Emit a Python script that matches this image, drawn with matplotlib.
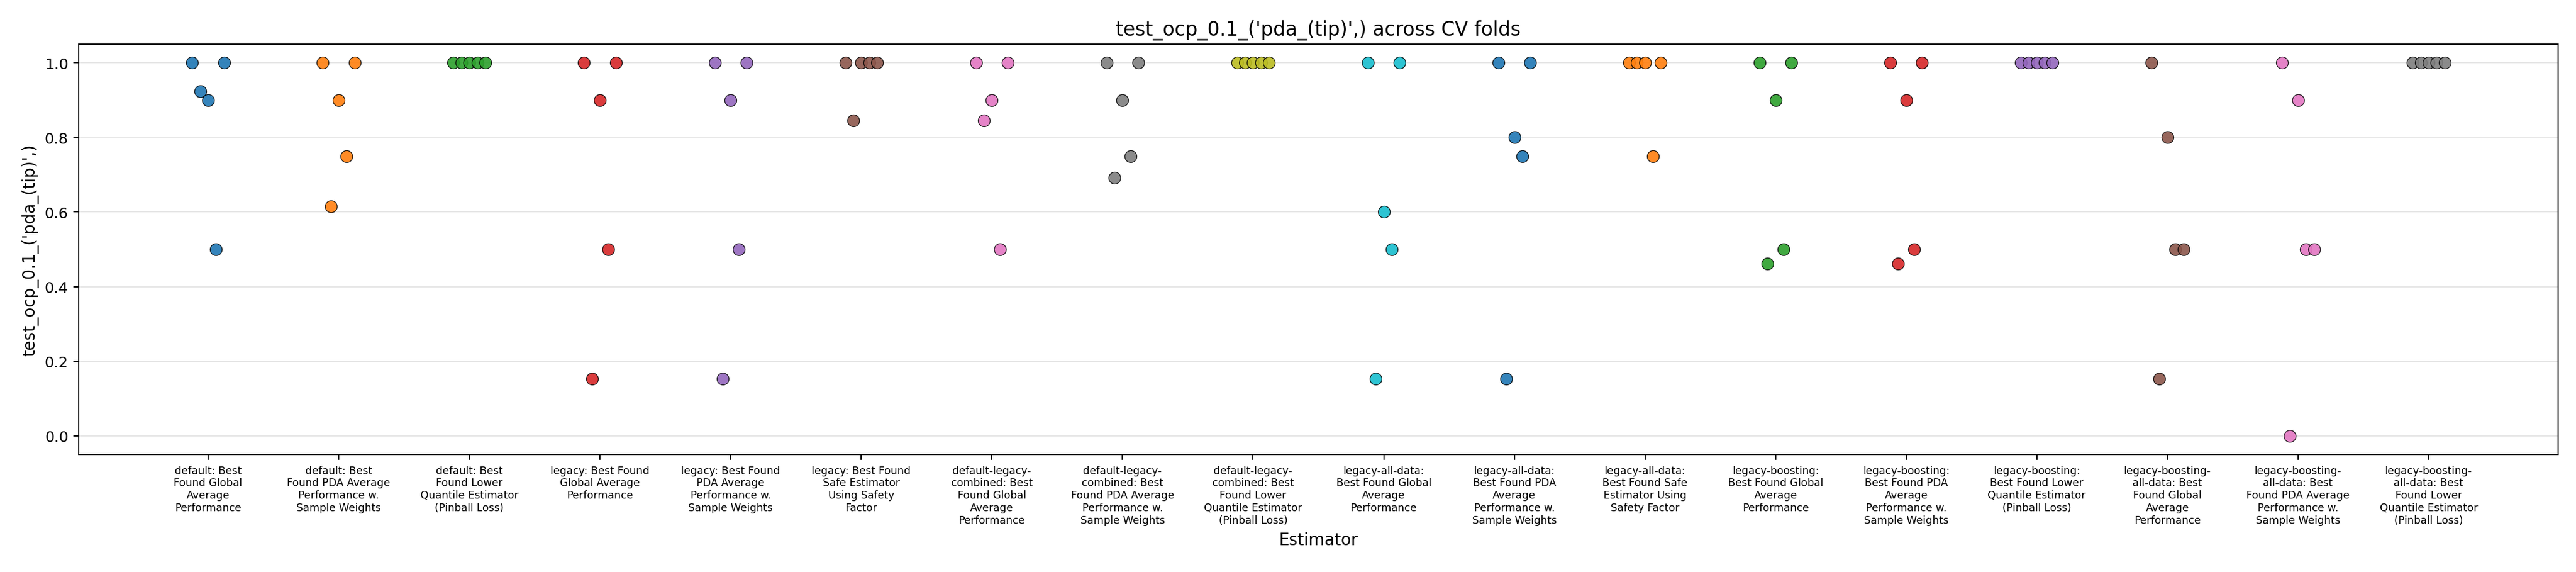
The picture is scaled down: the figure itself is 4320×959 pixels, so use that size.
import matplotlib
matplotlib.use("Agg")
import matplotlib.pyplot as plt
import numpy as np

metric = "test_ocp_0.1_('pda_(tip)',)"

estimators = [
    "default: Best\nFound Global\nAverage\nPerformance",
    "default: Best\nFound PDA Average\nPerformance w.\nSample Weights",
    "default: Best\nFound Lower\nQuantile Estimator\n(Pinball Loss)",
    "legacy: Best Found\nGlobal Average\nPerformance",
    "legacy: Best Found\nPDA Average\nPerformance w.\nSample Weights",
    "legacy: Best Found\nSafe Estimator\nUsing Safety\nFactor",
    "default-legacy-\ncombined: Best\nFound Global\nAverage\nPerformance",
    "default-legacy-\ncombined: Best\nFound PDA Average\nPerformance w.\nSample Weights",
    "default-legacy-\ncombined: Best\nFound Lower\nQuantile Estimator\n(Pinball Loss)",
    "legacy-all-data:\nBest Found Global\nAverage\nPerformance",
    "legacy-all-data:\nBest Found PDA\nAverage\nPerformance w.\nSample Weights",
    "legacy-all-data:\nBest Found Safe\nEstimator Using\nSafety Factor",
    "legacy-boosting:\nBest Found Global\nAverage\nPerformance",
    "legacy-boosting:\nBest Found PDA\nAverage\nPerformance w.\nSample Weights",
    "legacy-boosting:\nBest Found Lower\nQuantile Estimator\n(Pinball Loss)",
    "legacy-boosting-\nall-data: Best\nFound Global\nAverage\nPerformance",
    "legacy-boosting-\nall-data: Best\nFound PDA Average\nPerformance w.\nSample Weights",
    "legacy-boosting-\nall-data: Best\nFound Lower\nQuantile Estimator\n(Pinball Loss)",
]

# one value per CV fold (fold 0..4)
fold_0 = [1.0, 1.0, 1.0, 1.0, 1.0, 1.0, 1.0, 1.0, 1.0, 1.0, 1.0, 1.0, 1.0, 1.0, 1.0, 1.0, 1.0, 1.0]
fold_1 = [0.923, 0.615, 1.0, 0.154, 0.154, 0.846, 0.846, 0.692, 1.0, 0.154, 0.154, 1.0, 0.462, 0.462, 1.0, 0.154, 0.0, 1.0]
fold_2 = [0.9, 0.9, 1.0, 0.9, 0.9, 1.0, 0.9, 0.9, 1.0, 0.6, 0.8, 1.0, 0.9, 0.9, 1.0, 0.8, 0.9, 1.0]
fold_3 = [0.5, 0.75, 1.0, 0.5, 0.5, 1.0, 0.5, 0.75, 1.0, 0.5, 0.75, 0.75, 0.5, 0.5, 1.0, 0.5, 0.5, 1.0]
fold_4 = [1.0, 1.0, 1.0, 1.0, 1.0, 1.0, 1.0, 1.0, 1.0, 1.0, 1.0, 1.0, 1.0, 1.0, 1.0, 0.5, 0.5, 1.0]

folds = [fold_0, fold_1, fold_2, fold_3, fold_4]
n_folds = len(folds)
offset = 0.061

fig, ax = plt.subplots(figsize=(24, 5.3333), dpi=180)
fig.subplots_adjust(left=0.0306, right=0.993, top=0.922, bottom=0.205)

for i in range(len(estimators)):
    vals = [f[i] for f in folds]
    xs = i + (np.arange(n_folds) - (n_folds - 1) / 2) * offset
    ax.scatter(xs, vals, s=64, color=f"C{i % 10}", edgecolor="black",
               linewidth=0.5, alpha=0.9, zorder=3)

ax.set_xticks(range(len(estimators)))
ax.set_xticklabels(estimators, fontsize=7)
ax.set_xlim(-0.99, len(estimators) - 0.01)
ax.set_ylim(-0.05, 1.05)
ax.grid(axis="y", alpha=0.3)
ax.set_axisbelow(True)
ax.tick_params(axis="y", labelsize=10)

ax.set_xlabel("Estimator", fontsize=11)
ax.set_ylabel(metric, fontsize=11)
ax.set_title(f"{metric} across CV folds", fontsize=13)

fig.savefig("out.png", dpi=180)
